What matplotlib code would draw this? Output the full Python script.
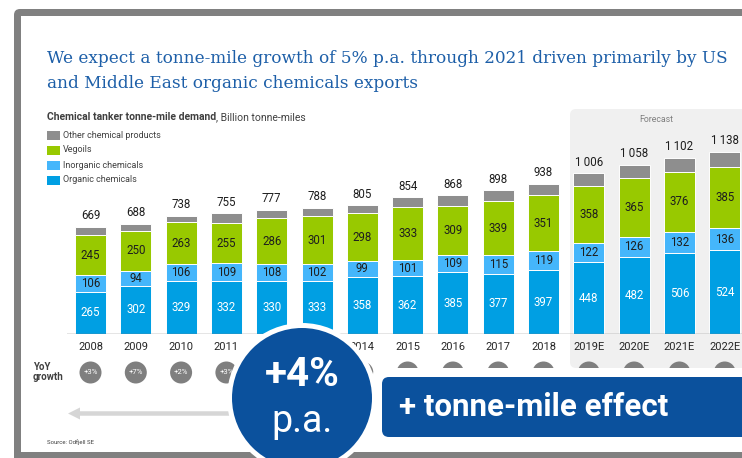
import matplotlib
matplotlib.use("Agg")
import matplotlib.pyplot as plt
from matplotlib.patches import FancyBboxPatch, Circle, FancyArrow, Rectangle

years = ["2008", "2009", "2010", "2011", "2012", "2013", "2014", "2015",
         "2016", "2017", "2018", "2019E", "2020E", "2021E", "2022E"]
organic = [265, 302, 329, 332, 330, 333, 358, 362, 385, 377, 397, 448, 482, 506, 524]
inorganic = [106, 94, 106, 109, 108, 102, 99, 101, 109, 115, 119, 122, 126, 132, 136]
vegoils = [245, 250, 263, 255, 286, 301, 298, 333, 309, 339, 351, 358, 365, 376, 385]
other = [53, 42, 40, 59, 53, 52, 50, 58, 65, 67, 71, 78, 85, 88, 93]
totals = [669, 688, 738, 755, 777, 788, 805, 854, 868, 898, 938, 1006, 1058, 1102, 1138]
yoy = ["+3%", "+7%", "+2%", "+3%", "+3%", "+1%", "+2%", "+6%",
       "+2%", "+3%", "+4%", "+7%", "+5%", "+4%", "+3%"]

C_ORG = "#009fe3"
C_INO = "#45b6fb"
C_VEG = "#98c900"
C_OTH = "#8e8e8e"
NAVY = "#0b519d"
TITLE = "#1d5fa8"

W, H = 742, 458
fig = plt.figure(figsize=(W / 100, H / 100), dpi=100)

# ---------- background layer (pixel coordinates) ----------
bg = fig.add_axes([0, 0, 1, 1], zorder=0)
bg.set_xlim(0, W)
bg.set_ylim(H, 0)
bg.axis("off")

bg.add_patch(FancyBboxPatch((14, 9), 800, 600, boxstyle="round,pad=0,rounding_size=6",
                            fc="#808080", ec="none"))
bg.add_patch(Rectangle((21, 16), 800, 436, fc="white", ec="none"))
# forecast shading
bg.add_patch(FancyBboxPatch((570, 109), 220, 259, boxstyle="round,pad=0,rounding_size=6",
                            fc="#f0f0f0", ec="none"))
bg.text(656, 119, "Forecast", fontsize=6.3, color="#7f7f7f", family="Roboto",
        ha="center", va="center")

bg.text(47, 71, "We expect a tonne-mile growth of 5% p.a. through 2021 driven primarily by US\n"
        "and Middle East organic chemicals exports", fontsize=12.2, color=TITLE,
        family="DejaVu Serif", ha="left", va="center", linespacing=1.55)

t1 = bg.text(47, 117, "Chemical tanker tonne-mile demand", fontsize=7.5, fontweight="bold",
             color="#404040", family="Roboto", ha="left", va="center")
bg.annotate(", Billion tonne-miles", xy=(1, 0.5), xycoords=t1, va="center", ha="left",
            fontsize=7.5, color="#404040", family="Roboto")

legend_items = [("Other chemical products", C_OTH), ("Vegoils", C_VEG),
                ("Inorganic chemicals", C_INO), ("Organic chemicals", C_ORG)]
for i, (lab, col) in enumerate(legend_items):
    yc = 135 + 15 * i
    bg.add_patch(Rectangle((47, yc - 4.5), 13, 9.5, fc=col, ec="none"))
    bg.text(63, yc, lab, fontsize=6.5, color="#404040", family="Roboto",
            ha="left", va="center")

# ---------- chart axes ----------
x0, dx = 90.5, 45.3
scale = 0.16  # px per unit
left_px, base_px, top_px = 67, 334, 100
ax = fig.add_axes([left_px / W, (H - base_px) / H, (W - left_px) / W, (base_px - top_px) / H],
                  zorder=1)
ax.patch.set_alpha(0)
ax.set_xlim((left_px - x0) / dx, (W - x0) / dx)
ax.set_ylim(0, (base_px - top_px) / scale)
for s in ax.spines.values():
    s.set_visible(False)
ax.set_yticks([])

xs = list(range(len(years)))
bw = 31 / dx
b1 = organic
b2 = [a + b for a, b in zip(organic, inorganic)]
b3 = [a + b for a, b in zip(b2, vegoils)]
kw = dict(width=bw, edgecolor="white", linewidth=0.7)
ax.bar(xs, organic, color=C_ORG, **kw)
ax.bar(xs, inorganic, bottom=b1, color=C_INO, **kw)
ax.bar(xs, vegoils, bottom=b2, color=C_VEG, **kw)
ax.bar(xs, other, bottom=b3, color=C_OTH, **kw)
ax.axhline(0, color="#7f7f7f", lw=1.0, zorder=5)

lab_kw = dict(ha="center", va="center", fontsize=8.3, family="Roboto")
for i in xs:
    ax.text(i, organic[i] / 2, str(organic[i]), color="white", **lab_kw)
    ax.text(i, b1[i] + inorganic[i] / 2, str(inorganic[i]), color="#1e1e1e", **lab_kw)
    ax.text(i, b2[i] + vegoils[i] / 2, str(vegoils[i]), color="#1e1e1e", **lab_kw)
    ax.text(i, totals[i] + 4 / scale + 3, f"{totals[i]:,}".replace(",", "\u2009"),
            color="#1e1e1e", ha="center", va="bottom", fontsize=8.3,
            family=["Roboto", "DejaVu Sans"])

ax.set_xticks(xs, years)
ax.tick_params(axis="x", length=0, pad=5.5, labelsize=8, labelcolor="#262626")
for lbl in ax.get_xticklabels():
    lbl.set_family("Roboto")

# big overlay circle geometry (pixels)
CX, CY, R_OUT, R_IN = 302, 398, 75, 70

# YoY row (background)
bg.text(33, 372, "YoY\ngrowth", fontsize=7, fontweight="bold", color="#404040",
        family="Roboto", ha="left", va="center", linespacing=1.1)
for i in xs:
    cx = x0 + dx * i
    bg.add_patch(Circle((cx, 372.5), 11, fc="#7f7f7f", ec="none"))
    hidden = ((cx - CX) ** 2 + (372.5 - CY) ** 2) ** 0.5 < R_OUT or cx > 373
    if not hidden:
        bg.text(cx, 372.5, yoy[i], fontsize=5.6, color="white", family="Roboto",
                ha="center", va="center")
bg.text(47, 442, "Source: Odfjell SE", fontsize=4.3, color="#404040", family="Roboto",
        ha="left", va="center")

# ---------- overlay layer ----------
ov = fig.add_axes([0, 0, 1, 1], zorder=3)
ov.patch.set_alpha(0)
ov.set_xlim(0, W)
ov.set_ylim(H, 0)
ov.axis("off")

ov.add_patch(FancyArrow(240, 413.5, -172, 0, width=4.5, head_width=12, head_length=12,
                        length_includes_head=True, fc="#d6d6d6", ec="none"))
ov.add_patch(FancyBboxPatch((373, 368), 420, 84, boxstyle="round,pad=0,rounding_size=8",
                            fc="white", ec="none"))
ov.add_patch(FancyBboxPatch((382, 377), 420, 60, boxstyle="round,pad=0,rounding_size=7",
                            fc=NAVY, ec="none"))
ov.text(399, 407, "+ tonne-mile effect", fontsize=22.5, fontweight="bold", color="white",
        family="Roboto", ha="left", va="center")

ov.add_patch(Circle((CX, CY), R_OUT, fc="white", ec="none"))
ov.add_patch(Circle((CX, CY), R_IN, fc=NAVY, ec="none"))
ov.text(CX, 375, "+4%", fontsize=29, fontweight="bold", color="white", family="Roboto",
        ha="center", va="center")
ov.text(CX, 421, "p.a.", fontsize=27, color="white", family="Roboto",
        ha="center", va="center")

fig.savefig("out.png", dpi=100)
